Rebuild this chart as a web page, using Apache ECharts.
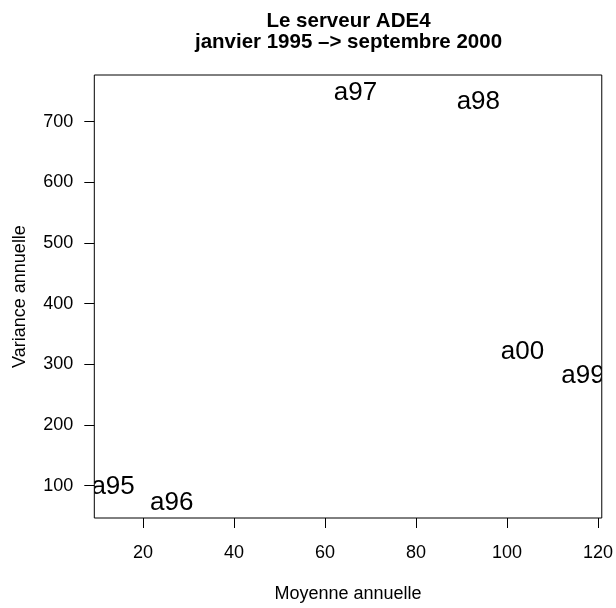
<!DOCTYPE html>
<html>
<head>
<meta charset="utf-8">
<script src="https://cdn.jsdelivr.net/npm/echarts@6/dist/echarts.min.js"></script>
<style>
  html, body { margin: 0; padding: 0; background: #fff; }
  #chart { width: 616px; height: 608px; }
</style>
</head>
<body>
<div id="chart"></div>
<script>
// Yearly mean vs. yearly variance of the ADE4 server traffic
const years = ['a95', 'a96', 'a97', 'a98', 'a99', 'a00'];
const meanValues = [13.4, 26.3, 66.7, 93.7, 116.7, 103.4];
const varianceValues = [100, 73.8, 749.8, 735, 282, 321.5];
const xTicks = [20, 40, 60, 80, 100, 120];
const yTicks = [100, 200, 300, 400, 500, 600, 700];

// Axis limits: data range widened by 4% on each side
function paddedRange(values) {
  const lo = Math.min(...values), hi = Math.max(...values);
  const pad = (hi - lo) * 0.04;
  return [lo - pad, hi + pad];
}
const xRange = paddedRange(meanValues);
const yRange = paddedRange(varianceValues);

const FONT = '"Liberation Sans", Arial, Helvetica, sans-serif';

const points = years.map((y, i) => [meanValues[i], varianceValues[i]]);

const chart = echarts.init(document.getElementById('chart'), null, { renderer: 'canvas' });
chart.setOption({
  backgroundColor: '#ffffff',
  animation: false,
  title: {
    text: 'Le serveur ADE4\njanvier 1995 –> septembre 2000',
    left: 348.5,
    top: 10,
    padding: 0,
    textAlign: 'center',
    textStyle: { fontFamily: FONT, fontWeight: 'bold', fontSize: 20.5, lineHeight: 21.7, color: '#000' }
  },
  grid: {
    left: 94.3, top: 75, right: 13, bottom: 88.3,
    show: true, borderColor: '#000', borderWidth: 1, backgroundColor: 'transparent'
  },
  xAxis: {
    type: 'value',
    min: xRange[0], max: xRange[1],
    splitLine: { show: false },
    axisLine: { show: false },
    axisTick: { show: true, inside: false, length: 10, customValues: xTicks, lineStyle: { color: '#000' } },
    axisLabel: { customValues: xTicks, margin: 26.5, fontFamily: FONT, fontSize: 18, color: '#000' },
    name: 'Moyenne annuelle',
    nameLocation: 'middle',
    nameGap: 67,
    nameTextStyle: { fontFamily: FONT, fontSize: 18, color: '#000' }
  },
  yAxis: {
    type: 'value',
    min: yRange[0], max: yRange[1],
    splitLine: { show: false },
    axisLine: { show: false },
    axisTick: { show: true, inside: false, length: 10, customValues: yTicks, lineStyle: { color: '#000' } },
    axisLabel: { customValues: yTicks, margin: 21, fontFamily: FONT, fontSize: 18, color: '#000' },
    name: 'Variance annuelle',
    nameLocation: 'middle',
    nameGap: 65,
    nameTextStyle: { fontFamily: FONT, fontSize: 18, color: '#000' }
  },
  series: [{
    type: 'custom',
    clip: true,
    data: points,
    encode: { x: 0, y: 1 },
    renderItem: function (params, api) {
      const p = api.coord([api.value(0), api.value(1)]);
      const cs = params.coordSys;
      return {
        type: 'group',
        clipPath: {
          type: 'rect',
          shape: { x: cs.x, y: cs.y, width: cs.width, height: cs.height }
        },
        children: [{
          type: 'text',
          x: p[0],
          y: p[1] + 1,
          style: {
            text: years[params.dataIndex],
            fontFamily: FONT,
            fontSize: 26,
            fill: '#000',
            align: 'center',
            verticalAlign: 'middle'
          }
        }]
      };
    }
  }]
});
</script>
</body>
</html>
